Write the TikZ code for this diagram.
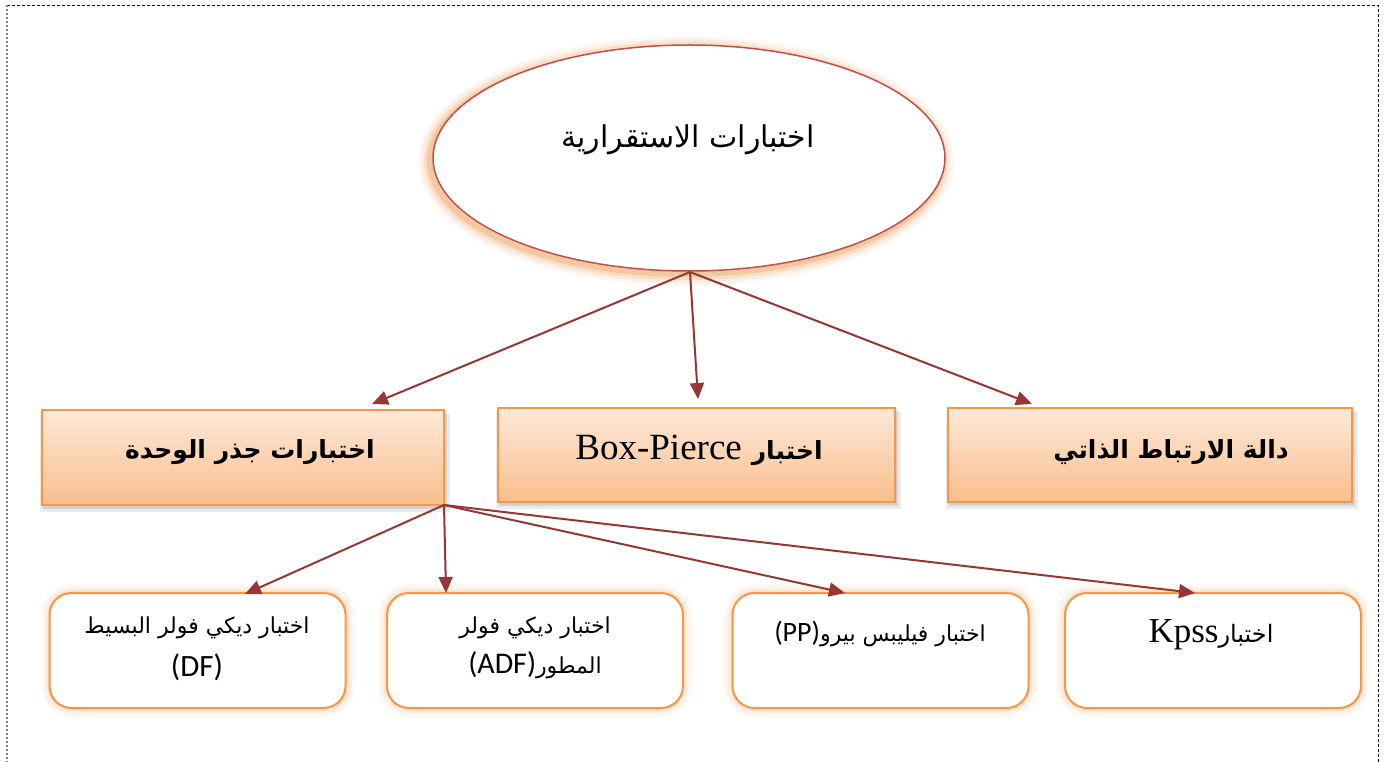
\documentclass[tikz,border=0pt]{standalone}
\usepackage{fontspec}
\setmainfont{Liberation Serif}
\newfontfamily\arabicfont[Script=Arabic]{DejaVu Sans}
\newfontfamily\calib{Carlito}
\newfontfamily\tms{Liberation Serif}
\TeXXeTstate=1
\usetikzlibrary{arrows.meta,shapes.geometric}

\definecolor{arrowred}{RGB}{149,55,53}
\definecolor{ellipseline}{RGB}{192,80,77}
\definecolor{boxline}{RGB}{247,150,70}
\definecolor{boxtop}{RGB}{253,233,217}
\definecolor{boxbottom}{RGB}{250,190,140}
\definecolor{glow}{RGB}{230,140,60}

\tikzset{
  link/.style={draw=arrowred, line width=2pt,
    -{Triangle[length=16pt,width=14pt]}},
  topbox/.style={draw=boxline, line width=1.6pt, top color=boxtop,
    bottom color=boxbottom, shading angle=0},
  testbox/.style={draw=boxline, line width=2pt, fill=white,
    rounded corners=22pt},
}

\begin{document}
\begin{tikzpicture}[x=1pt,y=-1pt]
\useasboundingbox (0,0) rectangle (1389,762);

% page frame (open at the bottom)
\draw[black, line width=0.8pt, dash pattern=on 3pt off 2pt]
  (7,5) -- (1378,5) -- (1378,770);
\draw[gray, line width=2pt, dash pattern=on 2pt off 2pt] (7,5) -- (7,770);

% soft orange halo behind the main ellipse
\foreach \w/\o in {24/0.06,18/0.10,12/0.16,6/0.28}{
  \draw[glow, line width=\w pt, opacity=\o]
    (686,161) ellipse [x radius=256, y radius=113];
}
\node[draw=ellipseline, line width=1.5pt, fill=white, ellipse,
      minimum width=512pt, minimum height=226pt, inner sep=0pt]
  (root) at (689,158) {};
\node (roottext) at (688,140)
  {\fontsize{30pt}{34pt}\arabicfont\beginR اختبارات الاستقرارية\endR};

% category boxes with grey drop shadows
\foreach \xa/\ya/\xb/\yb in {42/410/444/505, 498/408/895/502, 948/408/1352/502}{
  \fill[black, opacity=0.08] (\xa-2,\ya+4) rectangle (\xb+6,\yb+7);
  \fill[black, opacity=0.10] (\xa+1,\ya+2) rectangle (\xb+3,\yb+4);
}
\node[topbox, minimum width=402pt, minimum height=95pt, inner sep=0pt]
  (unit) at (243,457.5) {};
\node[topbox, minimum width=397pt, minimum height=94pt, inner sep=0pt]
  (box) at (696.5,455) {};
\node[topbox, minimum width=404pt, minimum height=94pt, inner sep=0pt]
  (acf) at (1150,455) {};
\node (unittext) at (250,452)
  {\fontsize{25pt}{28pt}\bfseries\arabicfont\beginR اختبارات جذر الوحدة\endR};
\node (boxtext) at (699,450)
  {\arabicfont\beginR{\fontsize{25pt}{28pt}\bfseries اختبار}\hspace{10pt}\beginL{\tms\fontsize{37pt}{40pt}\selectfont Box-Pierce}\endL\endR};
\node (acftext) at (1171,452)
  {\fontsize{25pt}{28pt}\bfseries\arabicfont\beginR دالة الارتباط الذاتي\endR};

% unit-root test boxes with orange halo
\foreach \xa in {50,387,733,1065}{
  \foreach \w/\o in {18/0.05,12/0.08,6/0.12}{
    \draw[glow, line width=\w pt, opacity=\o, rounded corners=22pt]
      (\xa,593) rectangle ++(296,115);
  }
}
\node[testbox, minimum width=296pt, minimum height=115pt, inner sep=0pt]
  (df) at (197.5,650.5) {};
\node[testbox, minimum width=296pt, minimum height=115pt, inner sep=0pt]
  (adf) at (535,650.5) {};
\node[testbox, minimum width=296pt, minimum height=115pt, inner sep=0pt]
  (pp) at (880.5,650.5) {};
\node[testbox, minimum width=296pt, minimum height=115pt, inner sep=0pt]
  (kpss) at (1213,650.5) {};

\node (dfline) at (197,628)
  {\fontsize{22pt}{26pt}\arabicfont\beginR اختبار ديكي فولر البسيط\endR};
\node (dfabbr) at (197,667)
  {\calib\fontsize{31pt}{34pt}\selectfont (DF)};
\node (adfline) at (535,628)
  {\fontsize{22pt}{26pt}\arabicfont\beginR اختبار ديكي فولر\endR};
\node (adfabbr) at (535,665)
  {\fontsize{22pt}{26pt}\arabicfont\beginR المطور\beginL{\calib\fontsize{30pt}{34pt}\selectfont (ADF)}\endL\endR};
\node (pptext) at (880,634)
  {\fontsize{22pt}{26pt}\arabicfont\beginR اختبار فيليبس بيرو\beginL{\calib\fontsize{28pt}{32pt}\selectfont (PP)}\endL\endR};
\node (kpsstext) at (1211,635)
  {\fontsize{24pt}{28pt}\arabicfont\beginR اختبار\beginL{\tms\fontsize{35pt}{38pt}\selectfont Kpss}\endL\endR};

% connectors
\coordinate (rootfoot) at (690,272);
\coordinate (unitfoot) at (444,505);
\draw[link] (rootfoot) -- (372,404);
\draw[link] (rootfoot) -- (698,399);
\draw[link] (rootfoot) -- (1032,404);
\draw[link] (unitfoot) -- (245,594);
\draw[link] (unitfoot) -- (446,593);
\draw[link] (unitfoot) -- (845,593);
\draw[link] (unitfoot) -- (1195,593);
\end{tikzpicture}
\end{document}
